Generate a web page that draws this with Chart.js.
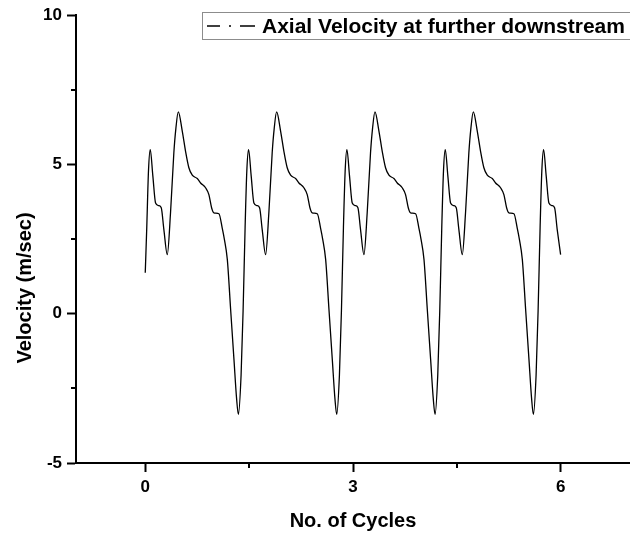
<!DOCTYPE html>
<html lang="en">
<head>
    <meta charset="UTF-8">
    <title>Axial Velocity</title>
    <script src="https://cdn.jsdelivr.net/npm/chart.js"></script>
    <style>
        body { margin: 0; background: #fff; }
        #wrap { width: 630px; height: 536px; }
    </style>
</head>
<body>
    <div id="wrap">
        <canvas id="velChart" width="630" height="536"></canvas>
    </div>

<script>
    // trace starts half way up the first rising edge
    const firstSample = [0, 1.37];
    // cycle position of the small peak of every pulse
    const pulseStarts = [0.072, 1.492, 2.912, 4.332, 5.752];
    // one pulse, cycle offsets measured from its small peak
    const pulseOffsets = [-0.147, -0.108, -0.079, -0.050, -0.025, 0, 0.038, 0.077, 0.124, 0.159,
        0.197, 0.246, 0.293, 0.341, 0.370, 0.405, 0.463, 0.510, 0.558, 0.607, 0.679, 0.727,
        0.799, 0.847, 0.886, 0.919, 0.992, 1.041, 1.070, 1.113, 1.161, 1.209, 1.248];
    // velocity (m/sec) at those offsets
    const pulseVelocity = [-3.37, -2.05, 0.1, 2.9, 4.8, 5.50, 4.61, 3.71, 3.62, 3.55,
        2.82, 1.98, 3.38, 5.39, 6.2, 6.76, 6.11, 5.44, 4.89, 4.64, 4.53, 4.38,
        4.22, 3.99, 3.55, 3.38, 3.35, 2.85, 2.5, 1.82, 0.14, -1.53, -2.87];
    const lastCycle = 6;

    const xTicks = [0, 3, 6];
    const xMinorTicks = [1.5, 4.5];
    const yTicks = [-5, 0, 5, 10];
    const yMinorTicks = [-2.5, 2.5, 7.5];

    const FONT = "'Liberation Sans', Arial, sans-serif";

    var points = [{ x: firstSample[0], y: firstSample[1] }];
    for (var k = 0; k < pulseStarts.length; k++) {
        for (var i = 0; i < pulseOffsets.length; i++) {
            var c = +(pulseStarts[k] + pulseOffsets[i]).toFixed(3);
            if (c > firstSample[0] && c <= lastCycle) {
                points.push({ x: c, y: pulseVelocity[i] });
            }
        }
    }

    // short minor ticks, legend box and the y title
    const extras = {
        id: 'extras',
        afterDraw(chart) {
            const ctx = chart.ctx;
            const area = chart.chartArea;
            const xs = chart.scales.x, ys = chart.scales.y;
            ctx.save();

            ctx.strokeStyle = '#000';
            ctx.lineWidth = 2;
            ctx.beginPath();
            xMinorTicks.forEach(v => {
                const px = Math.round(xs.getPixelForValue(v));
                ctx.moveTo(px, area.bottom);
                ctx.lineTo(px, area.bottom + 5);
            });
            yMinorTicks.forEach(v => {
                const py = Math.round(ys.getPixelForValue(v));
                ctx.moveTo(area.left - 5, py);
                ctx.lineTo(area.left, py);
            });
            ctx.stroke();

            // legend
            ctx.strokeStyle = '#8c8c8c';
            ctx.lineWidth = 1;
            ctx.strokeRect(202.5, 12.5, 460, 27);

            ctx.strokeStyle = '#000';
            ctx.lineWidth = 1.3;
            ctx.setLineDash([13, 9, 2, 9, 15]);
            ctx.beginPath();
            ctx.moveTo(207, 26);
            ctx.lineTo(255, 26);
            ctx.stroke();
            ctx.setLineDash([]);

            ctx.fillStyle = '#000';
            ctx.font = 'bold 21px ' + FONT;
            ctx.textAlign = 'left';
            ctx.textBaseline = 'alphabetic';
            ctx.fillText(chart.data.datasets[0].label, 262, 33);

            // y axis title
            ctx.translate(25, 288);
            ctx.rotate(-Math.PI / 2);
            ctx.font = 'bold 20px ' + FONT;
            ctx.textAlign = 'center';
            ctx.textBaseline = 'middle';
            ctx.fillText('Velocity (m/sec)', 0, 0);
            ctx.restore();
        }
    };

    const tickFont = { family: FONT, size: 17, weight: 'bold' };

    new Chart(document.getElementById('velChart'), {
        type: 'line',
        data: {
            datasets: [{
                label: 'Axial Velocity at further downstream',
                data: points,
                borderColor: '#000',
                borderWidth: 1.3,
                pointRadius: 0,
                fill: false,
                cubicInterpolationMode: 'monotone'
            }]
        },
        options: {
            responsive: false,
            animation: false,
            layout: { padding: { top: 15, right: 0, bottom: 0, left: 0 } },
            plugins: {
                legend: { display: false },
                tooltip: { enabled: false }
            },
            scales: {
                x: {
                    type: 'linear',
                    min: -1,
                    max: 7,
                    afterBuildTicks: (axis) => { axis.ticks = xTicks.map(v => ({ value: v })); },
                    afterFit: (axis) => { axis.height = 73; },
                    ticks: { font: tickFont, color: '#000', padding: 5, maxRotation: 0, autoSkip: false },
                    grid: { drawOnChartArea: false, drawTicks: true, tickLength: 9, tickWidth: 2, tickColor: '#000' },
                    border: { color: '#000', width: 2 },
                    title: {
                        display: true,
                        text: 'No. of Cycles',
                        color: '#000',
                        font: { family: FONT, size: 20, weight: 'bold' },
                        padding: { top: 0, bottom: 3 }
                    }
                },
                y: {
                    min: -5,
                    max: 10,
                    afterBuildTicks: (axis) => { axis.ticks = yTicks.map(v => ({ value: v })); },
                    afterFit: (axis) => { axis.width = 76; },
                    ticks: { font: tickFont, color: '#000', padding: 5 },
                    grid: { drawOnChartArea: false, drawTicks: true, tickLength: 9, tickWidth: 2, tickColor: '#000' },
                    border: { color: '#000', width: 2 }
                }
            }
        },
        plugins: [extras]
    });
</script>
</body>
</html>
